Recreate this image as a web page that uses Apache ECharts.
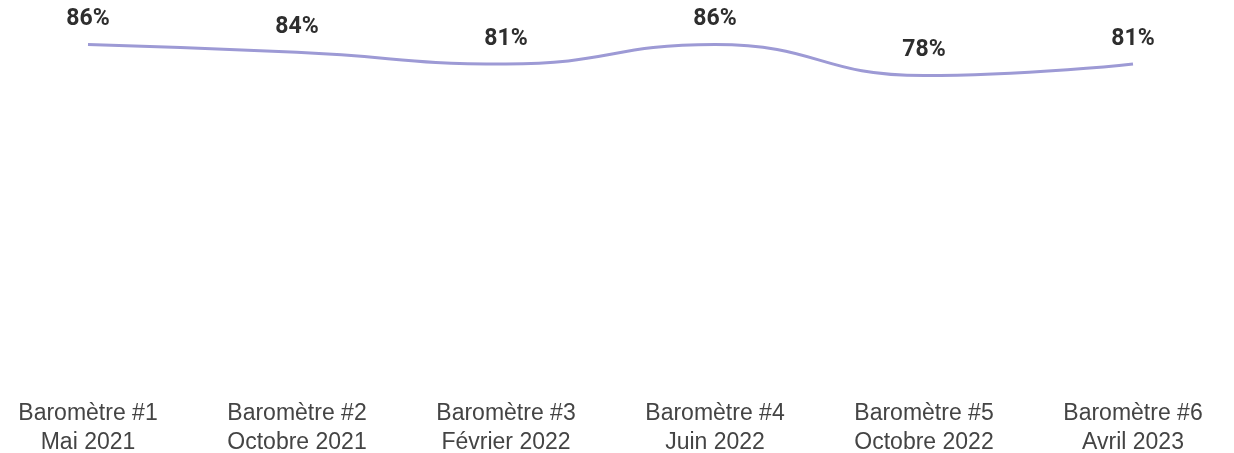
<!DOCTYPE html>
<html><head><meta charset="utf-8">
<script src="https://cdn.jsdelivr.net/npm/echarts@6/dist/echarts.min.js"></script>
<style>html,body{margin:0;padding:0;background:#fff}#c{width:1234px;height:453px}</style>
</head><body><div id="c"></div>
<script>
const categories = ["Baromètre #1\nMai 2021","Baromètre #2\nOctobre 2021","Baromètre #3\nFévrier 2022","Baromètre #4\nJuin 2022","Baromètre #5\nOctobre 2022","Baromètre #6\nAvril 2023"];
const values = [86, 84, 81, 86, 78, 81];

const chart = echarts.init(document.getElementById('c'));
chart.setOption({
  animation: false,
  grid: {left: 88, right: 101, top: 0, bottom: 75, containLabel: false, outerBoundsMode: 'none'},
  xAxis: {
    type: 'category', data: categories, boundaryGap: false,
    axisLine: {show: false}, axisTick: {show: false}, splitLine: {show: false},
    axisLabel: {color: '#444', fontSize: 23, fontFamily: 'Liberation Sans, Arial, sans-serif', lineHeight: 29, margin: 21, interval: 0}
  },
  yAxis: {type: 'value', min: 0, max: 97.5, show: false, splitLine: {show: false}},
  series: [{
    type: 'line', data: values, smooth: 0.5, symbol: 'circle', symbolSize: 1, showSymbol: true,
    itemStyle: {color: 'rgba(0,0,0,0)'},
    lineStyle: {color: '#9d9ad5', width: 3},
    label: {show: true, position: 'top', distance: 13, formatter: '{c}%', color: '#2e2e2e',
      fontSize: 23, fontWeight: 'bold', fontFamily: 'Roboto, sans-serif'}
  }]
});
</script></body></html>
